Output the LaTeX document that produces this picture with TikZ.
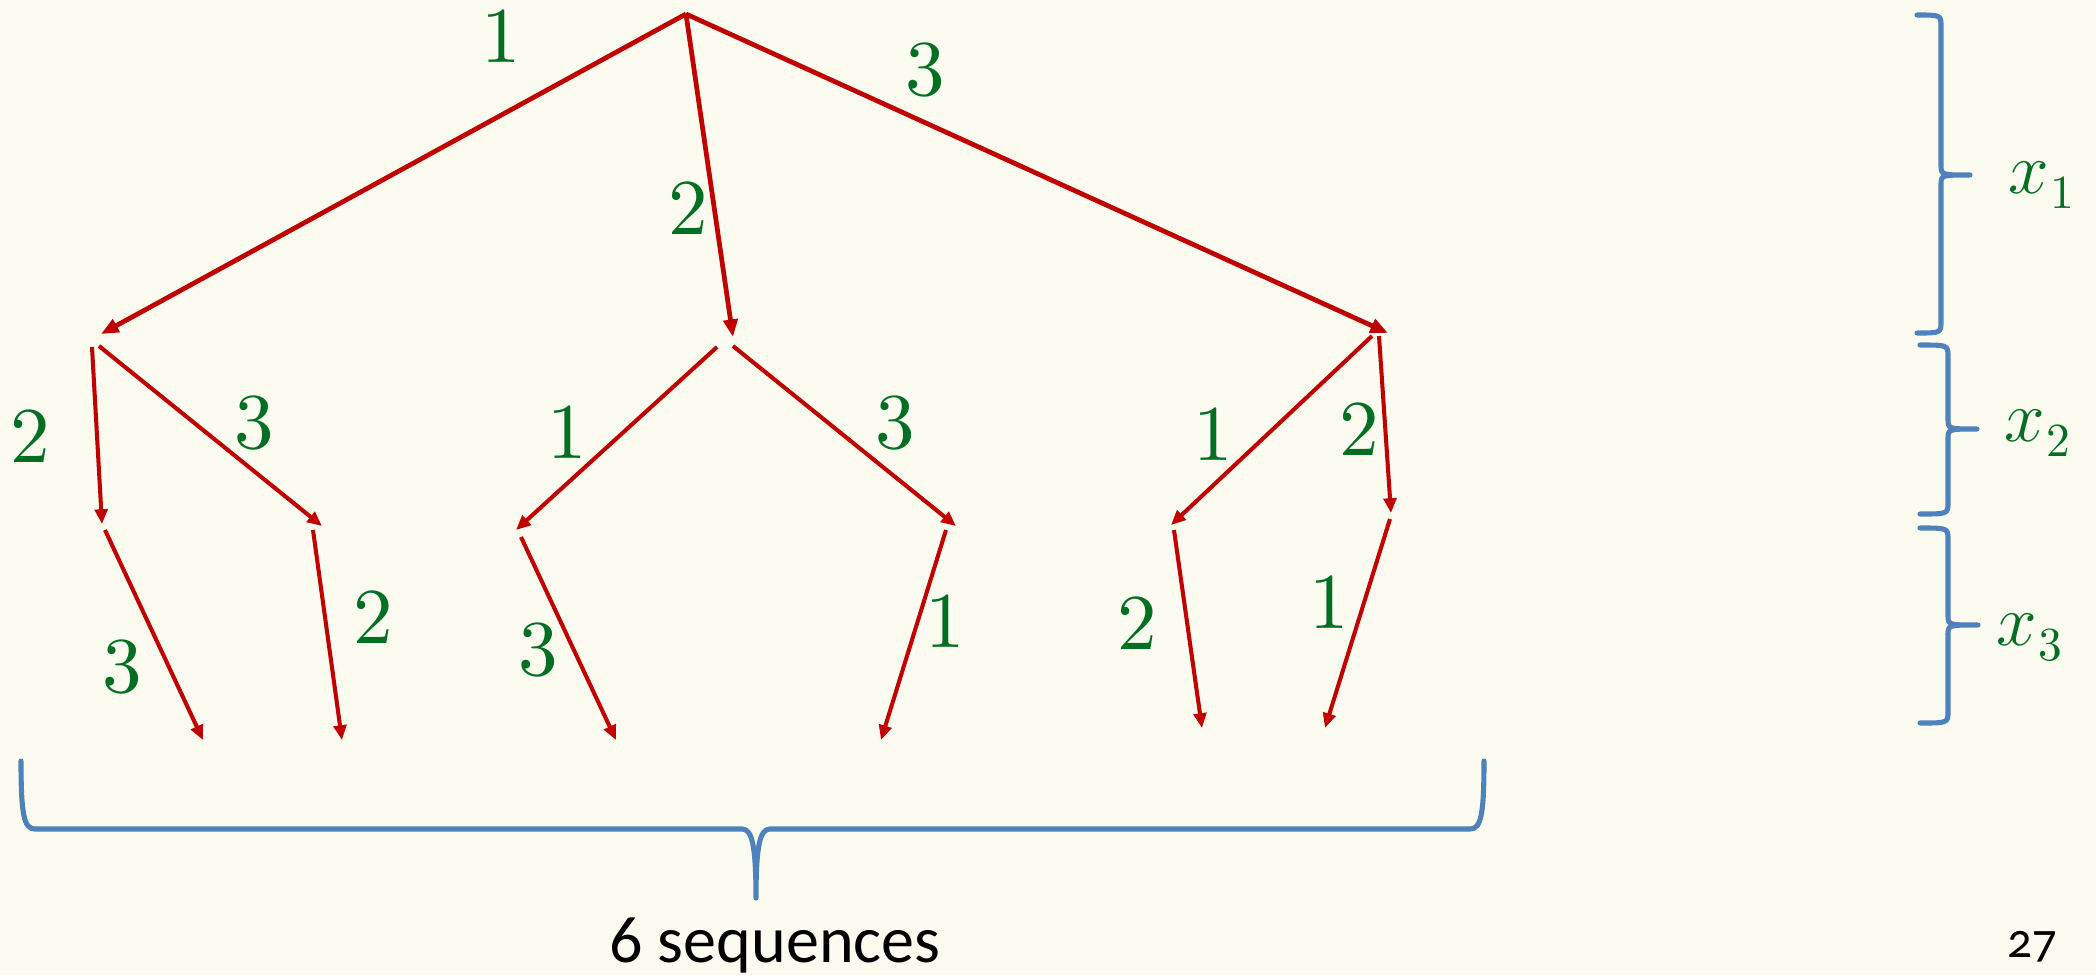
\documentclass[tikz,border=0pt]{standalone}
\usepackage{fontspec}
\newfontfamily\carl{Carlito}
\newfontfamily\carlold{Carlito}[Numbers=OldStyle]
\newfontfamily\lmten{lmroman10-regular.otf}
\usetikzlibrary{arrows.meta}
\definecolor{bg}{RGB}{252,251,239}
\definecolor{arr}{RGB}{192,0,0}
\definecolor{grn}{RGB}{0,110,35}
\definecolor{brc}{RGB}{79,129,189}
\tikzset{
  toparrow/.style={draw=arr, line width=1.35pt, -{Triangle[length=5pt,width=4pt]}},
  subarrow/.style={draw=arr, line width=1.15pt, -{Triangle[length=4.2pt,width=3.6pt]}},
  lbl/.style={text=grn, inner sep=0pt, font=\lmten\fontsize{22.5}{27}\selectfont},
  brace/.style={draw=brc, line width=1.45pt, line cap=round, line join=round},
}
\newcommand\bracepathR[6]{% x0, xl, xt, ytop, ymid, ybot
  \draw[brace] (#1,#4) .. controls (#2,#4) and (#2,#4) .. (#2,#4+12)
    -- (#2,#5-10) .. controls (#2,#5) and (#2,#5) .. (#3,#5)
    .. controls (#2,#5) and (#2,#5) .. (#2,#5+10)
    -- (#2,#6-12) .. controls (#2,#6) and (#2,#6) .. (#1,#6);}
\newcommand\xsub[1]{$x$\kern0.02em\raisebox{-0.19em}{\fontsize{13.5}{15}\selectfont #1}}
\begin{document}
\begin{tikzpicture}[x=0.01cm, y=-0.01cm]
\useasboundingbox (0,0) rectangle (2096,975);
\fill[bg] (0,0) rectangle (2096,975);

% coordinates
\coordinate (root) at (686,14);
\coordinate (n1) at (101,334);
\coordinate (n2) at (733,337);
\coordinate (n3) at (1388,333);
\coordinate (n1a) at (92,347);
\coordinate (n1b) at (99,346);
\coordinate (n2a) at (717,347);
\coordinate (n2b) at (733,346);
\coordinate (n3a) at (1372,336);
\coordinate (n3b) at (1379,336);
\coordinate (m1) at (102,524);
\coordinate (m2) at (322,526);
\coordinate (m3) at (516,530);
\coordinate (m4) at (956,526);
\coordinate (m5) at (1171,525);
\coordinate (m6) at (1391,513);
\coordinate (m1s) at (105,530);
\coordinate (m2s) at (313,530);
\coordinate (m3s) at (521,537);
\coordinate (m4s) at (946,530);
\coordinate (m5s) at (1174,530);
\coordinate (m6s) at (1390,519);
\coordinate (l1) at (203,740);
\coordinate (l2) at (342,740);
\coordinate (l3) at (616,740);
\coordinate (l4) at (881,740);
\coordinate (l5) at (1202,728);
\coordinate (l6) at (1325,728);

% level 1
\draw[toparrow] (root) -- (n1);
\draw[toparrow] (root) -- (n2);
\draw[toparrow] (root) -- (n3);
% level 2
\draw[subarrow] (n1a) -- (m1);
\draw[subarrow] (n1b) -- (m2);
\draw[subarrow] (n2a) -- (m3);
\draw[subarrow] (n2b) -- (m4);
\draw[subarrow] (n3a) -- (m5);
\draw[subarrow] (n3b) -- (m6);
% level 3
\draw[subarrow] (m1s) -- (l1);
\draw[subarrow] (m2s) -- (l2);
\draw[subarrow] (m3s) -- (l3);
\draw[subarrow] (m4s) -- (l4);
\draw[subarrow] (m5s) -- (l5);
\draw[subarrow] (m6s) -- (l6);

% labels
\node[lbl] (t1) at (501,36) {1};
\node[lbl] (t2) at (688,208) {2};
\node[lbl] (t3) at (925,70) {3};
\node[lbl] (u1) at (30,436) {2};
\node[lbl] (u2) at (254,423) {3};
\node[lbl] (u3) at (567,432) {1};
\node[lbl] (u4) at (895,423) {3};
\node[lbl] (u5) at (1213,434) {1};
\node[lbl] (u6) at (1359,429) {2};
\node[lbl] (v1) at (122,667) {3};
\node[lbl] (v2) at (373,617) {2};
\node[lbl] (v3) at (538,650) {3};
\node[lbl] (v4) at (945,621) {1};
\node[lbl] (v5) at (1137,623) {2};
\node[lbl] (v6) at (1329,602) {1};

% right braces
\bracepathR{1917}{1941}{1970}{15}{175}{333}
\bracepathR{1920}{1948}{1977}{345}{429}{514}
\bracepathR{1920}{1948}{1978}{528}{625}{723}
\node[lbl, anchor=base west] (x1) at (2008,193) {\xsub{1}};
\node[lbl, anchor=base west] (x2) at (2004,441) {\xsub{2}};
\node[lbl, anchor=base west] (x3) at (1996,645) {\xsub{3}};

% bottom brace
\draw[brace] (21,761) .. controls (21,815) and (24,829) .. (35,829)
  -- (742,829) .. controls (752,829) and (756,845) .. (756,898)
  .. controls (756,845) and (760,829) .. (770,829)
  -- (1470,829) .. controls (1481,829) and (1484,815) .. (1484,761);
\node[anchor=base, inner sep=0pt, font=\carl\fontsize{18.8}{22}\selectfont] (seq) at (775,962) {6 sequences};
\node[anchor=base west, inner sep=0pt, font=\carlold\fontsize{14}{16}\selectfont] (pg) at (2007,957) {27};
\end{tikzpicture}
\end{document}
